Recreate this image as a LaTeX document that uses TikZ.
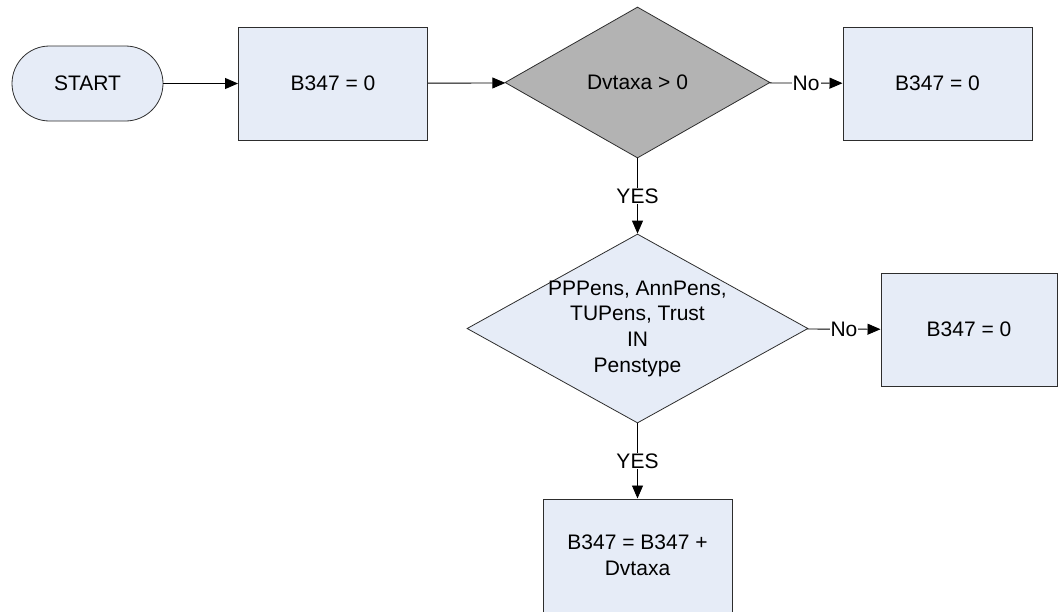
\documentclass[tikz,border=0pt]{standalone}
\usepackage{fontspec}
\setmainfont{Liberation Sans}
\usetikzlibrary{shapes.geometric,arrows.meta}
\definecolor{boxblue}{RGB}{230,236,247}
\definecolor{decgray}{RGB}{179,179,179}
\definecolor{edgegray}{RGB}{45,45,45}
\tikzset{
  process/.style={draw=edgegray, fill=boxblue, line width=1pt, minimum width=189pt,
    minimum height=113pt, inner sep=0pt, align=center},
  terminal/.style={draw=edgegray, fill=boxblue, line width=0.8pt, rounded corners=37.5pt,
    minimum width=151pt, minimum height=75pt, inner sep=0pt},
  decision/.style={draw=edgegray, diamond, line width=0.8pt, inner sep=0pt, fill=boxblue},
  flow/.style={-{Triangle[length=13pt,width=11pt]}, line width=0.9pt},
  answer/.style={fill=white, inner sep=1pt}
}
\begin{document}
\begin{tikzpicture}[x=1pt,y=-1pt,font=\fontsize{21}{25.7}\selectfont]
  \useasboundingbox (0,0) rectangle (1059,611);
  % top row
  \node[terminal] (start) at (87.5,83.5) {START};
  \node[process] (init) at (333,83.5) {B347 = 0};
  \node[decision, fill=decgray, minimum width=265pt, minimum height=151pt] (dvtaxa) at (637.5,82.5) {};
  \node (dvtaxatxt) at (dvtaxa) {Dvtaxa > 0};
  \node[process] (zeroa) at (937.5,83.5) {B347 = 0};
  % second test
  \node[decision, minimum width=341pt, minimum height=189pt] (penstype) at (637.5,328.5) {};
  \node[align=center] (penstypetxt) at (penstype) {PPPens, AnnPens,\\TUPens, Trust\\IN\\Penstype};
  \node[process, minimum width=176pt] (zerob) at (969,329.5) {B347 = 0};
  \node[process] (addtax) at (637.5,555.5) {B347 = B347 +\\Dvtaxa};

  \draw[flow] (start) -- (init);
  \draw[flow] (init) -- (dvtaxa);
  \draw[flow] (dvtaxa) -- node[answer]{No} (zeroa);
  \draw[flow] (dvtaxa) -- node[answer]{YES} (penstype);
  \draw[flow] (penstype) -- node[answer]{No} (zerob);
  \draw[flow] (penstype) -- node[answer]{YES} (addtax);
\end{tikzpicture}
\end{document}
